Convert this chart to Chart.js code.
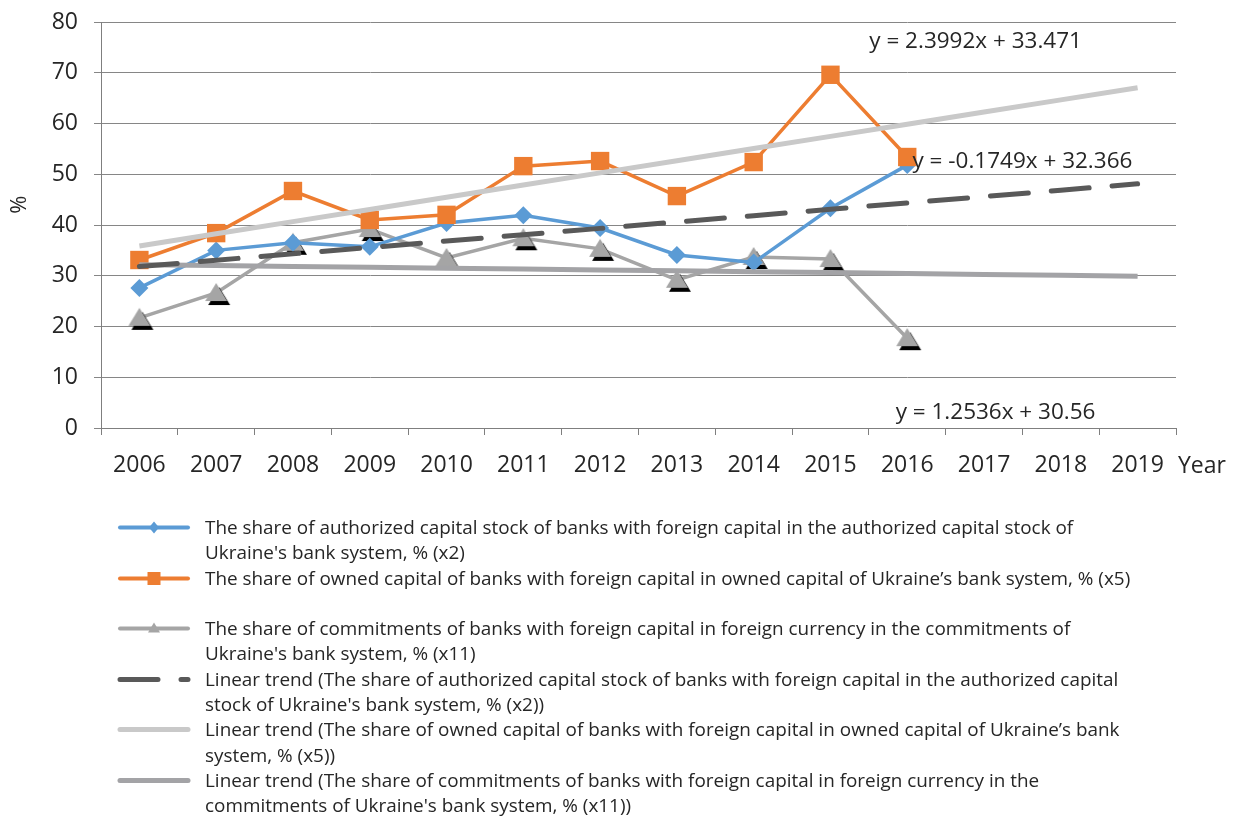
<!DOCTYPE html>
<html lang="en">
<head>
<meta charset="UTF-8">
<title>Banks with foreign capital</title>
<script src="https://cdn.jsdelivr.net/npm/chart.js"></script>
<style>
    body {
        margin: 0;
        background: #fff;
        width: 1238px;
        height: 819px;
        overflow: hidden;
        position: relative;
        font-family: "Open Sans", "Noto Sans", sans-serif;
        color: #262626;
    }
    #chartBox {
        position: absolute;
        left: 0;
        top: 0;
    }
    #legend {
        position: absolute;
        left: 117px;
        top: 515px;
        font-size: 18.9px;
    }
    .item {
        display: flex;
        align-items: flex-start;
    }
    .item canvas {
        flex: none;
        margin-right: 14px;
    }
    .line {
        height: 25.3px;
        line-height: 25.3px;
        white-space: nowrap;
    }
</style>
</head>
<body>

<div id="chartBox"><canvas id="myChart" width="1238" height="490"></canvas></div>
<div id="legend"></div>

<script>
// data
var years = ['2006', '2007', '2008', '2009', '2010', '2011', '2012', '2013', '2014', '2015', '2016', '2017', '2018', '2019'];
var authorizedShare = [27.6, 35.0, 36.5, 35.7, 40.4, 41.9, 39.4, 34.1, 32.6, 43.3, 51.8, null, null, null];
var ownedShare = [33.1, 38.4, 46.7, 41.0, 42.0, 51.6, 52.6, 45.7, 52.4, 69.6, 53.4, null, null, null];
var commitmentsShare = [21.7, 26.6, 36.5, 39.2, 33.5, 37.4, 35.3, 29.2, 33.7, 33.3, 17.7, null, null, null];

// trend equations printed on the chart (authorized, owned, commitments)
var trendSlopes = [1.2536, 2.3992, -0.1749];
var trendIntercepts = [30.56, 33.471, 32.366];
var trendTexts = ['y = 1.2536x + 30.56', 'y = 2.3992x + 33.471', 'y = -0.1749x + 32.366'];

var legendLines = [
    ["The share of authorized capital stock of banks with foreign capital in the authorized capital stock of", "Ukraine's bank system, % (x2)"],
    ["The share of owned capital of banks with foreign capital in owned capital of Ukraine\u2019s bank system, % (x5)", ""],
    ["The share of commitments of banks with foreign capital in foreign currency in the commitments of", "Ukraine's bank system, % (x11)"],
    ["Linear trend (The share of authorized capital stock of banks with foreign capital in the authorized capital", "stock of Ukraine's bank system, % (x2))"],
    ["Linear trend (The share of owned capital of banks with foreign capital in owned capital of Ukraine\u2019s bank", "system, % (x5))"],
    ["Linear trend (The share of commitments of banks with foreign capital in foreign currency in the", "commitments of Ukraine's bank system, % (x11))"]
];

var textColor = '#262626';
var fontFamily = '"Open Sans", "Noto Sans", sans-serif';

function trendValues(k) {
    return years.map(function (y, i) {
        return trendSlopes[k] * (i + 1) + trendIntercepts[k];
    });
}

// grey triangle with the black shadow triangle under it
function makeTriangle() {
    var c = document.createElement('canvas');
    c.width = 34;
    c.height = 34;
    var g = c.getContext('2d');
    var tri = function (dx, dy, color) {
        g.beginPath();
        g.moveTo(17 + dx, 7 + dy);
        g.lineTo(28 + dx, 25 + dy);
        g.lineTo(6 + dx, 25 + dy);
        g.closePath();
        g.fillStyle = color;
        g.fill();
    };
    tri(3, 4, '#000');
    tri(0, 0, '#a5a5a5');
    return c;
}

var seriesStyles = [
    { color: '#5b9bd5', marker: 'diamond' },
    { color: '#ed7d31', marker: 'square' },
    { color: '#a5a5a5', marker: 'triangle' },
    { color: '#595959', marker: 'none', dash: true },
    { color: '#c9c9c9', marker: 'none' },
    { color: '#a3a3a6', marker: 'none' }
];

var datasets = [
    {
        label: legendLines[0].join(' '),
        data: authorizedShare,
        borderColor: seriesStyles[0].color,
        backgroundColor: seriesStyles[0].color,
        borderWidth: 3.5,
        pointStyle: 'rectRot',
        pointRadius: 9,
        pointBorderWidth: 0,
        order: 5
    },
    {
        label: legendLines[1].join(' '),
        data: ownedShare,
        borderColor: seriesStyles[1].color,
        backgroundColor: seriesStyles[1].color,
        borderWidth: 3.5,
        pointStyle: 'rect',
        pointRadius: 13,
        pointBorderWidth: 0,
        order: 4
    },
    {
        label: legendLines[2].join(' '),
        data: commitmentsShare,
        borderColor: seriesStyles[2].color,
        backgroundColor: seriesStyles[2].color,
        borderWidth: 3.5,
        pointStyle: makeTriangle(),
        pointRadius: 10,
        order: 6
    },
    {
        label: legendLines[3].join(' '),
        data: trendValues(0),
        borderColor: seriesStyles[3].color,
        borderWidth: 5,
        borderDash: [38, 23],
        borderCapStyle: 'round',
        pointRadius: 0,
        order: 1
    },
    {
        label: legendLines[4].join(' '),
        data: trendValues(1),
        borderColor: seriesStyles[4].color,
        borderWidth: 5,
        pointRadius: 0,
        order: 2
    },
    {
        label: legendLines[5].join(' '),
        data: trendValues(2),
        borderColor: seriesStyles[5].color,
        borderWidth: 5,
        pointRadius: 0,
        order: 3
    }
];

// equation labels, the "%" title and the "Year" caption
var extraText = {
    id: 'extraText',
    afterDraw: function (chart) {
        var ctx = chart.ctx;
        var xs = chart.scales.x;
        var ys = chart.scales.y;
        ctx.save();
        ctx.fillStyle = textColor;
        ctx.textBaseline = 'middle';
        ctx.textAlign = 'center';
        ctx.font = '22.5px ' + fontFamily;
        ctx.fillText(trendTexts[1], xs.getPixelForValue(10.89), ys.getPixelForValue(76.1));
        ctx.fillText(trendTexts[2], xs.getPixelForValue(11.5), ys.getPixelForValue(52.4));
        ctx.fillText(trendTexts[0], xs.getPixelForValue(11.15), ys.getPixelForValue(3.1));
        ctx.textAlign = 'left';
        ctx.font = '23px ' + fontFamily;
        ctx.fillText('Year', xs.right + 2, xs.top + 38);
        ctx.save();
        ctx.translate(20, ys.getPixelForValue(44));
        ctx.rotate(-Math.PI / 2);
        ctx.textAlign = 'center';
        ctx.font = '22px ' + fontFamily;
        ctx.fillText('%', 0, 0);
        ctx.restore();
        ctx.restore();
    }
};

var ctxMain = document.getElementById('myChart').getContext('2d');
var myChart = new Chart(ctxMain, {
    type: 'line',
    data: {
        labels: years,
        datasets: datasets
    },
    options: {
        responsive: false,
        animation: false,
        devicePixelRatio: 1,
        layout: {
            padding: { left: 0, right: 62, top: 22, bottom: 0 }
        },
        plugins: {
            legend: { display: false },
            tooltip: { enabled: false }
        },
        scales: {
            x: {
                offset: true,
                grid: {
                    offset: true,
                    drawOnChartArea: false,
                    tickLength: 7,
                    color: '#7f7f7f'
                },
                border: { color: '#7f7f7f' },
                ticks: {
                    autoSkip: false,
                    maxRotation: 0,
                    padding: 17,
                    color: textColor,
                    font: { family: fontFamily, size: 23 }
                },
                afterFit: function (scale) { scale.height = 62; }
            },
            y: {
                min: 0,
                max: 80,
                ticks: {
                    stepSize: 10,
                    padding: 16,
                    color: textColor,
                    font: { family: fontFamily, size: 23 }
                },
                grid: { color: '#868686', tickLength: 7 },
                border: { color: '#7f7f7f' },
                afterFit: function (scale) {
                    scale.width = 101;
                    scale.paddingTop = 0;
                    scale.paddingBottom = 0;
                }
            }
        }
    },
    plugins: [extraText]
});

// legend icons
function drawIcon(canvas, style) {
    var g = canvas.getContext('2d');
    var mid = 12.5;
    g.strokeStyle = style.color;
    g.fillStyle = style.color;
    g.lineWidth = style.marker === 'none' ? 5 : 4;
    g.lineCap = 'round';
    if (style.dash) g.setLineDash([38, 23]);
    g.beginPath();
    g.moveTo(3, mid);
    g.lineTo(71, mid);
    g.stroke();
    g.setLineDash([]);
    var c = 37;
    g.beginPath();
    if (style.marker === 'diamond') {
        g.moveTo(c, mid - 6); g.lineTo(c + 5, mid); g.lineTo(c, mid + 6); g.lineTo(c - 5, mid);
    } else if (style.marker === 'square') {
        g.rect(c - 6.5, mid - 6.5, 13, 13);
    } else if (style.marker === 'triangle') {
        g.moveTo(c, mid - 6); g.lineTo(c + 6, mid + 4); g.lineTo(c - 6, mid + 4);
    }
    g.closePath();
    if (style.marker !== 'none') g.fill();
}

var legendBox = document.getElementById('legend');
myChart.data.datasets.forEach(function (ds, i) {
    var item = document.createElement('div');
    item.className = 'item';
    var icon = document.createElement('canvas');
    icon.width = 74;
    icon.height = 25;
    drawIcon(icon, seriesStyles[i]);
    item.appendChild(icon);
    var txt = document.createElement('div');
    legendLines[i].forEach(function (t) {
        var row = document.createElement('div');
        row.className = 'line';
        row.textContent = t;
        txt.appendChild(row);
    });
    item.appendChild(txt);
    legendBox.appendChild(item);
});
</script>

</body>
</html>
